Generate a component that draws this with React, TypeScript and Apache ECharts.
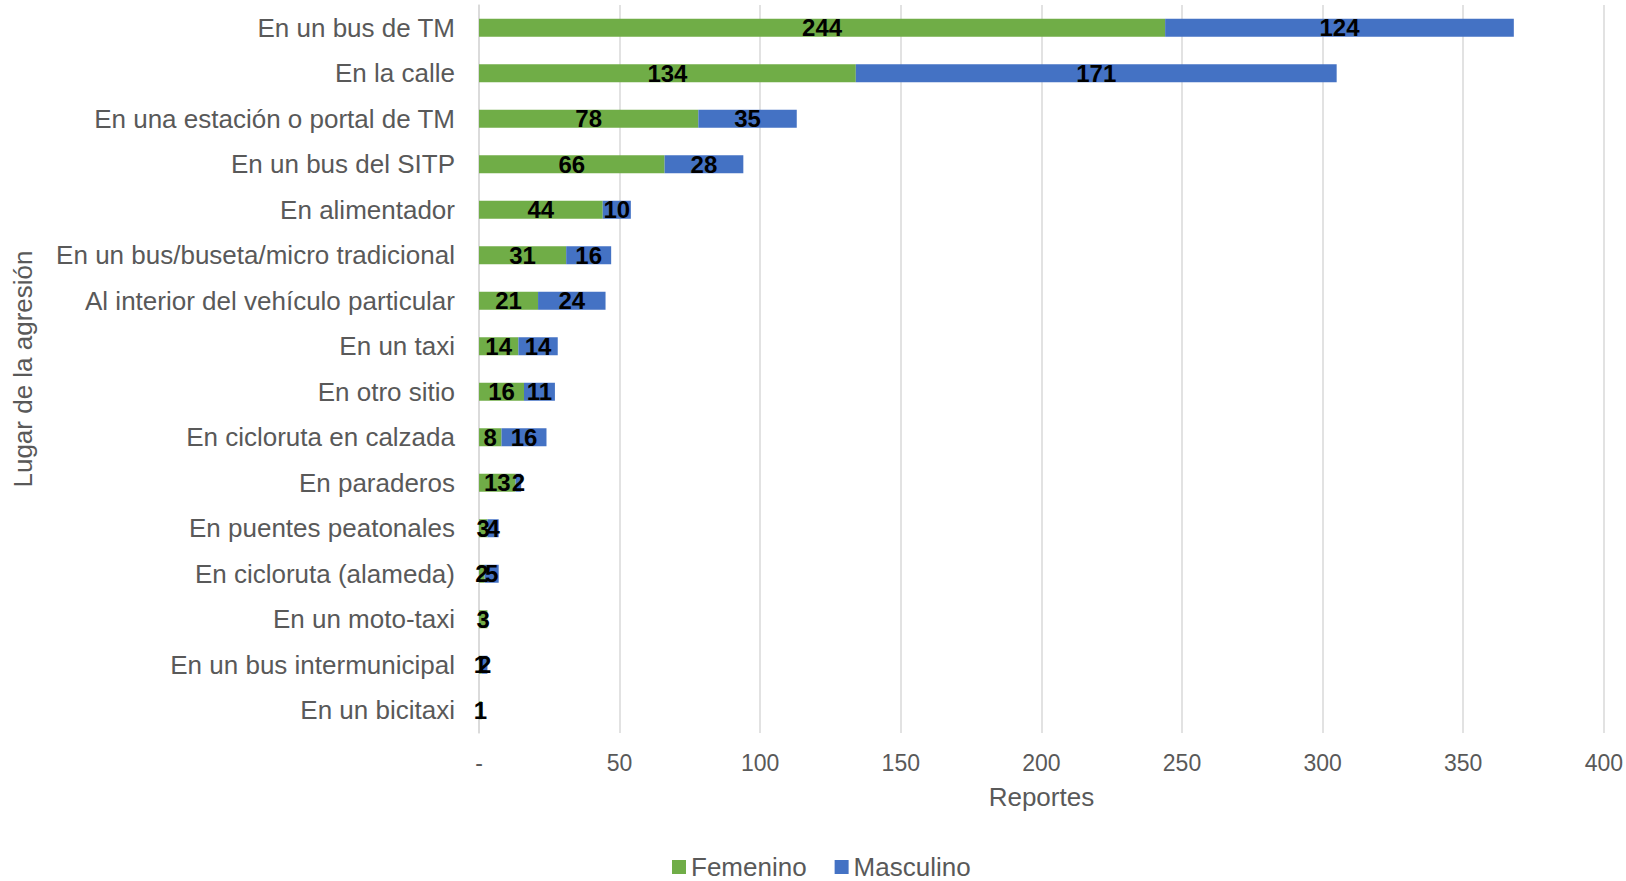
import React, { useEffect, useRef } from "react";
import * as echarts from "echarts";

const categories = [
  "En un bus de TM",
  "En la calle",
  "En una estación o portal de TM",
  "En un bus del SITP",
  "En alimentador",
  "En un bus/buseta/micro tradicional",
  "Al interior del vehículo particular",
  "En un taxi",
  "En otro sitio",
  "En cicloruta en calzada",
  "En paraderos",
  "En puentes peatonales",
  "En cicloruta (alameda)",
  "En un moto-taxi",
  "En un bus intermunicipal",
  "En un bicitaxi",
];
const femenino = [244, 134, 78, 66, 44, 31, 21, 14, 16, 8, 13, 3, 2, 3, 1, 1];
const masculino = [124, 171, 35, 28, 10, 16, 24, 14, 11, 16, 2, 4, 5, 0, 2, 0];
const xTicks = [0, 50, 100, 150, 200, 250, 300, 350, 400];

const FONT = "Liberation Sans, Arial, sans-serif";
const GRAY = "#595959";

export default function App() {
  const ref = useRef<HTMLDivElement>(null);
  useEffect(() => {
    if (!ref.current) return;
    const chart = echarts.init(ref.current, undefined, { renderer: "svg" });
    const labelCfg = {
      show: true,
      position: "inside",
      color: "#000",
      fontWeight: "bold",
      fontSize: 24,
      fontFamily: FONT,
      formatter: (p: any) => (p.value ? String(p.value) : ""),
    };
    chart.setOption({
      animation: false,
      textStyle: { fontFamily: FONT },
      grid: { left: 479, right: 21, top: 5, bottom: 148, containLabel: false },
      legend: {
        data: ["Femenino", "Masculino"],
        left: 667,
        top: 854,
        padding: [0, 5, 0, 5],
        itemWidth: 14,
        itemHeight: 14,
        itemGap: 28,
        icon: "rect",
        textStyle: { fontSize: 26, lineHeight: 26, color: GRAY, fontFamily: FONT },
      },
      xAxis: {
        type: "value",
        min: xTicks[0],
        max: xTicks[xTicks.length - 1],
        interval: 50,
        axisLine: { show: false },
        axisTick: { show: false },
        splitLine: { lineStyle: { color: "#d9d9d9", width: 1.5 } },
        axisLabel: {
          fontSize: 23,
          color: GRAY,
          margin: 18,
          fontFamily: FONT,
          formatter: (v: number) => (v === 0 ? "-" : String(v)),
        },
        name: "Reportes",
        nameLocation: "middle",
        nameGap: 51,
        nameTextStyle: { fontSize: 26, color: GRAY, fontFamily: FONT },
      },
      yAxis: {
        type: "category",
        inverse: true,
        data: categories,
        axisTick: { show: false },
        axisLine: { lineStyle: { color: "#d9d9d9", width: 1.5 } },
        axisLabel: { fontSize: 26, color: GRAY, margin: 24, fontFamily: FONT },
        name: "Lugar de la agresión",
        nameLocation: "middle",
        nameRotate: 90,
        nameGap: 443,
        nameTextStyle: { fontSize: 26, color: GRAY, fontFamily: FONT },
      },
      series: [
        {
          name: "Femenino",
          type: "bar",
          stack: "total",
          barWidth: 18,
          data: femenino,
          itemStyle: { color: "#70AD47" },
          label: labelCfg,
        },
        {
          name: "Masculino",
          type: "bar",
          stack: "total",
          barWidth: 18,
          data: masculino,
          itemStyle: { color: "#4472C4" },
          label: labelCfg,
        },
      ],
    });
    return () => chart.dispose();
  }, []);
  return (
    <div
      ref={ref}
      style={{ position: "fixed", left: 0, top: 0, width: 1626, height: 881, background: "#fff" }}
    />
  );
}
